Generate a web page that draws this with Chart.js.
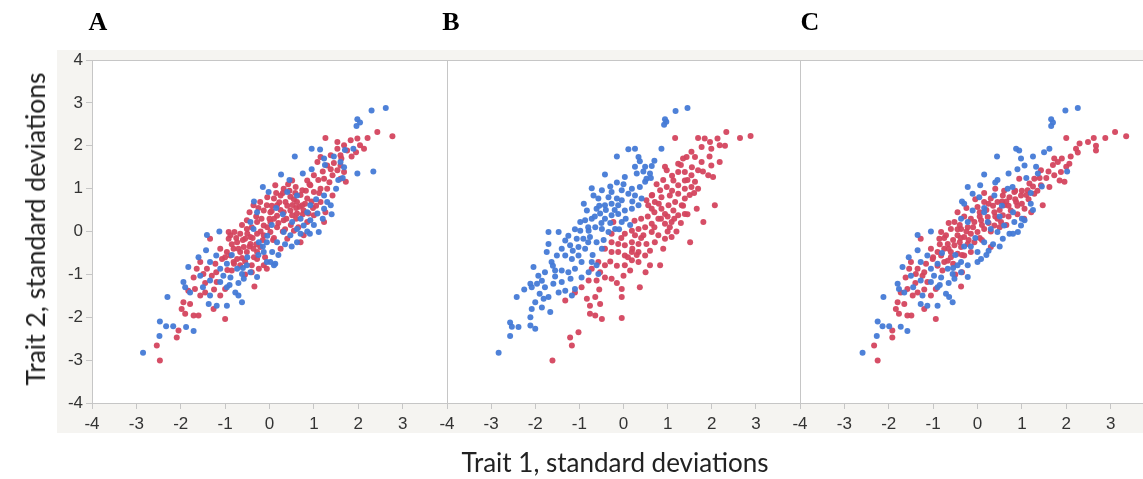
<!DOCTYPE html>
<html>
<head>
<meta charset="utf-8">
<script src="https://cdn.jsdelivr.net/npm/chart.js@4/dist/chart.umd.min.js"></script>
<style>
  html, body { margin: 0; padding: 0; width: 1143px; height: 479px; overflow: hidden; background: #fff; }
  #band { position: absolute; left: 57px; top: 50px; width: 1110px; height: 383px; background: #f5f4f1; }
  canvas { position: absolute; left: 0; top: 0; }
  .letter { position: absolute; top: 7px; font: bold 26px "Liberation Serif", "Times New Roman", serif; color: #000; transform: translateX(-50%); }
  #ytitle { position: absolute; left: 35px; top: 229px; transform: translate(-50%, -50%) rotate(-90deg); font: 26.5px Lato, "Open Sans", sans-serif; color: #222; white-space: nowrap; }
  #xtitle { position: absolute; left: 615px; top: 462px; transform: translate(-50%, -50%); font: 26px Lato, "Open Sans", sans-serif; color: #222; white-space: nowrap; }
</style>
</head>
<body>
<div id="band"></div>
<canvas id="chartA" width="1160" height="479"></canvas>
<canvas id="chartB" width="1160" height="479"></canvas>
<canvas id="chartC" width="1160" height="479"></canvas>
<div class="letter" style="left:98px">A</div>
<div class="letter" style="left:451px">B</div>
<div class="letter" style="left:810px">C</div>
<div id="ytitle">Trait 2, standard deviations</div>
<div id="xtitle">Trait 1, standard deviations</div>
<script>
// Panel letters and axis ranges
const panelLabels = ['A', 'B', 'C'];
const xTicks = [-4, -3, -2, -1, 0, 1, 2, 3];
const yTicks = [-4, -3, -2, -1, 0, 1, 2, 3, 4];

// Panel A: both groups overlapping along the trait diagonal
const aBlue = [
  [2.62,2.88],[2.30,2.82],[1.98,2.62],[2.04,2.54],[1.96,2.46],[1.89,1.93],[1.98,1.35],[2.34,1.40],[0.95,1.93],[1.14,1.91],
  [0.57,1.75],[0.26,1.33],[1.60,1.62],[1.68,1.50],[1.23,1.70],[-0.15,1.04],[-0.02,0.92],[0.40,0.92],[0.62,0.84],[1.23,0.84],
  [1.30,0.69],[1.38,0.61],[1.23,0.53],[1.08,0.42],[0.92,0.26],[1.11,-0.01],[0.91,-0.05],[0.77,0.14],[0.62,0.06],[0.47,-0.09],
  [0.32,-0.01],[0.17,-0.25],[0.06,-0.48],[0.02,-0.71],[0.13,-0.75],[-0.28,0.45],[-0.43,0.22],[-0.36,0.06],[-0.24,-0.25],[-0.13,-0.48],
  [-0.06,-0.25],[0.51,0.22],[0.70,0.30],[0.92,0.61],[0.62,-0.25],[-1.41,-0.08],[-1.13,0.00],[-1.43,-0.44],[-1.83,-0.83],[-1.20,-0.56],
  [-1.34,-0.71],[-1.11,-0.87],[-0.96,-0.75],[-1.04,-1.03],[-0.88,-1.07],[-0.73,-0.87],[-0.62,-0.99],[-0.58,-1.10],[-0.96,-1.30],[-1.11,-1.18],
  [-1.34,-1.14],[-1.56,-1.03],[-1.94,-1.18],[-1.90,-1.30],[-1.79,-1.42],[-1.34,-1.49],[-1.37,-1.69],[-1.19,-1.73],[-0.96,-1.73],[-0.77,-1.42],
  [-0.70,-1.49],[-0.62,-1.65],[-2.30,-1.53],[-2.47,-2.10],[-2.33,-2.21],[-2.17,-2.21],[-1.88,-2.23],[-1.71,-2.32],[-2.48,-2.44],[-2.85,-2.83],
  [-0.51,-0.79],[-0.43,-0.95],[-0.06,-0.71],[0.10,-0.79],[-0.28,-1.06],[0.30,0.40],[0.85,0.45],[1.05,0.75],[1.50,1.00],[1.55,1.20],
  [0.70,-0.05],[0.35,-0.30],[-0.05,-0.10],[-0.50,-0.60],[-0.70,-1.20],[-0.85,-0.55],[1.25,1.55],[1.65,1.25],[0.05,0.15],[-0.25,-0.55],
  [0.50,-0.35],[0.85,0.00],[1.00,0.15],[1.40,0.40],[1.20,0.30],[-0.15,-0.35],[0.20,-0.55],[-0.60,-0.85],[-0.90,-1.25],[-1.50,-1.30],
  [-1.60,-0.60],[0.15,0.55],[-0.35,0.70],[0.45,1.20],[0.75,1.35],[1.45,1.75],[1.70,1.90],[0.95,1.45]
];
const aRed = [
  [2.77,2.22],[2.43,2.32],[2.21,2.18],[1.98,2.17],[1.83,2.13],[2.13,1.93],[2.04,2.01],[1.68,2.01],[1.53,1.93],[1.26,2.18],
  [1.53,2.09],[1.75,1.89],[1.60,1.78],[1.38,1.78],[1.15,1.74],[1.08,1.62],[1.30,1.54],[1.60,1.54],[1.68,1.39],[1.53,1.43],
  [1.42,1.31],[1.23,1.23],[1.00,1.31],[0.85,1.19],[1.72,1.16],[1.60,1.23],[0.51,1.19],[0.13,1.08],[-0.36,0.61],[-0.21,0.69],
  [-0.06,0.61],[0.10,0.77],[0.25,0.84],[0.36,0.69],[0.47,0.81],[0.62,0.69],[0.74,0.61],[0.85,0.77],[1.00,0.92],[0.92,1.08],
  [1.15,1.00],[0.74,0.96],[0.59,1.04],[0.32,1.00],[0.17,0.61],[0.02,0.45],[-0.13,0.49],[0.17,0.37],[0.32,0.45],[0.47,0.49],
  [0.62,0.42],[0.77,0.49],[0.32,0.26],[0.51,0.38],[-0.28,0.22],[-0.13,0.14],[0.02,0.22],[0.17,0.10],[-0.51,0.06],[-0.66,-0.05],
  [-0.55,-0.17],[-0.43,-0.13],[-0.28,-0.05],[-0.13,-0.09],[0.02,-0.01],[-0.43,-0.29],[-0.58,-0.36],[-0.73,-0.25],[-0.81,-0.40],[-0.66,-0.48],
  [-0.51,-0.48],[-0.36,-0.40],[-0.21,-0.36],[-0.88,-0.56],[-0.73,-0.64],[-0.88,-0.09],[-0.92,-0.01],[-0.51,0.26],[-0.28,-0.64],[-0.13,-0.79],
  [-0.24,-0.87],[-0.40,-0.79],[0.85,0.22],[1.00,0.38],[1.23,0.22],[1.26,0.45],[1.15,0.69],[1.42,0.84],[0.77,-0.09],[0.70,-0.25],
  [0.40,-0.17],[0.25,-0.40],[0.55,0.02],[-1.34,-0.17],[-1.56,-0.71],[-1.64,-0.87],[-1.49,-0.99],[-1.71,-1.07],[-1.83,-1.38],[-1.68,-1.34],
  [-1.56,-1.49],[-1.45,-1.42],[-1.11,-1.49],[-1.00,-1.34],[-1.19,-1.18],[-1.30,-1.03],[-1.41,-0.87],[-1.22,-0.75],[-1.07,-0.64],[-0.96,-0.48],
  [-1.11,-0.40],[-0.81,-0.71],[-0.66,-0.79],[-0.85,-0.91],[-0.92,-0.17],[-0.79,-0.01],[-1.94,-1.65],[-1.98,-1.81],[-1.90,-1.92],[-1.71,-1.96],
  [-1.60,-1.96],[-1.79,-1.69],[-1.26,-1.81],[-1.00,-2.04],[-0.34,-1.28],[-2.05,-2.31],[-2.09,-2.47],[-2.54,-2.66],[-2.47,-3.01],[-0.28,-0.48],
  [-0.06,-0.87],[-0.60,-0.20],[-0.45,-0.35],[-0.30,-0.30],[-0.20,0.00],[-0.05,0.10],[0.10,0.30],[0.25,0.50],[0.40,0.60],[0.55,0.75],
  [0.70,0.85],[0.30,0.90],[0.45,0.95],[0.60,0.55],[0.80,0.65],[0.90,1.10],[1.10,1.20],[1.30,1.00],[1.45,1.60],[0.00,0.30],
  [-0.15,-0.20],[-0.35,-0.60],[-0.55,-0.70],[-0.70,-0.40],[-0.50,-0.05],[0.05,0.60],[0.20,0.20],[0.35,0.05],[0.60,0.30],[0.75,0.40],
  [0.95,0.70],[-0.80,-0.75],[-0.95,-0.90],[-0.30,0.35],[-0.10,-0.60],[-0.75,-0.15],[-0.62,-0.62],[-0.40,0.10],[-0.18,0.30],[0.08,-0.20],
  [0.22,0.68],[0.38,0.30],[0.52,0.62],[0.68,0.58],[0.82,0.95],[0.98,0.55],[1.12,0.90],[1.20,1.40],[1.35,1.15],[0.42,1.10],
  [0.15,0.90],[-0.05,0.80],[-0.45,0.45],[-0.62,0.15],[-0.85,-0.30],[-1.00,-0.60],[-1.20,-0.95],[-1.45,-1.20],[-1.25,-1.35],[-0.55,-1.00],
  [-0.40,-0.95],[0.30,0.00],[0.48,0.15],[0.65,0.10],[0.88,0.42],[1.05,0.60],[1.38,1.45],[1.62,1.70],[1.85,1.75],[1.95,1.85],
  [0.10,-0.15],[-0.25,0.55],[0.58,0.90],[0.05,0.48],[-0.38,-0.15]
];

// Panel B: groups separated along trait 1
const bBlue = [
  [1.45,2.88],[1.18,2.81],[0.94,2.62],[0.92,2.49],[0.97,2.56],[0.86,1.93],[0.26,1.93],[0.11,1.92],[-0.15,1.75],[0.34,1.74],
  [0.37,1.64],[0.49,1.51],[0.64,1.53],[0.60,1.35],[0.26,1.51],[-0.42,1.33],[0.03,1.27],[-0.15,1.14],[0.49,1.16],[0.52,1.23],
  [0.62,1.25],[-0.72,1.01],[-0.49,0.96],[-0.27,0.92],[-0.04,0.96],[0.19,1.00],[0.37,1.04],[-0.68,0.84],[-0.57,0.77],[-0.34,0.80],
  [-0.15,0.77],[-0.04,0.73],[0.11,0.88],[0.26,0.84],[0.41,0.77],[0.34,0.61],[-0.27,0.65],[-0.12,0.61],[-0.42,0.61],[-0.61,0.53],
  [-0.83,0.49],[-0.98,0.22],[-0.87,0.26],[-0.72,0.30],[-0.53,0.42],[-0.42,0.30],[-0.27,0.38],[-0.12,0.41],[0.03,0.49],[0.19,0.53],
  [-0.04,0.22],[-0.19,0.06],[-0.34,-0.01],[-0.49,0.06],[-0.64,0.10],[-0.79,0.02],[-0.98,0.02],[-1.06,-0.17],[-0.91,-0.17],[-0.76,-0.13],
  [-0.61,-0.25],[-0.49,-0.40],[-0.87,-0.40],[-1.02,-0.36],[-1.21,-0.32],[-1.32,-0.21],[-1.47,-0.01],[-1.70,-0.01],[-1.70,-0.29],[-1.74,-0.48],
  [-1.51,-0.56],[-1.63,-0.71],[-2.04,-0.83],[-1.32,-0.56],[-1.17,-0.64],[-1.02,-0.56],[-0.95,-0.71],[-0.72,-0.71],[-0.61,-0.79],[-1.10,-0.87],
  [-1.25,-0.95],[-1.40,-0.91],[-1.55,-0.91],[-1.78,-0.95],[-1.93,-1.03],[-2.11,-1.22],[-2.08,-1.30],[-1.96,-1.22],[-1.78,-1.30],[-1.59,-1.22],
  [-1.40,-1.18],[-1.32,-1.38],[-1.47,-1.42],[-1.70,-1.53],[-1.81,-1.57],[-2.00,-1.65],[-2.42,-1.53],[-1.85,-1.77],[-1.66,-1.88],[-2.08,-1.81],
  [-2.11,-2.00],[-2.57,-2.12],[-2.53,-2.22],[-2.38,-2.23],[-2.11,-2.19],[-2.00,-2.27],[-2.57,-2.44],[-2.83,-2.83],[-1.17,-1.49],[-1.10,-1.34],
  [-0.95,-1.07],[-0.79,-0.95],[-0.57,-0.99],[-0.30,0.20],[-0.50,0.20],[-0.65,0.35],[-0.80,0.10],[-0.40,0.50],[-0.20,0.50],[0.05,0.30],
  [0.20,0.70],[0.00,1.10],[-0.30,1.05],[-0.55,0.60],[-1.10,0.05],[-1.25,-0.10],[-1.40,-0.40],[-1.15,-0.45],[-0.80,-0.25],[-0.70,-0.55],
  [-0.45,-0.20],[-1.60,-0.80],[-1.85,-1.15],[-1.55,-1.05],[-1.20,-1.10],[-2.25,-1.35],[-1.90,-1.45],[0.45,1.40],[0.70,1.65],[0.30,1.35],
  [-0.90,0.65],[-0.10,0.05],[0.15,0.15]
];
const bRed = [
  [2.88,2.23],[2.64,2.18],[2.33,2.32],[2.13,2.17],[1.96,2.09],[1.84,2.17],[1.69,2.18],[1.17,2.18],[1.77,1.97],[1.99,1.93],
  [2.18,2.01],[1.54,1.86],[1.43,1.74],[1.35,1.70],[1.62,1.74],[1.77,1.62],[1.99,1.54],[2.18,1.62],[1.92,1.31],[2.03,1.27],
  [1.69,1.43],[1.54,1.31],[1.39,1.39],[1.24,1.39],[0.98,1.43],[0.94,1.51],[1.24,1.58],[1.39,1.19],[1.62,1.16],[1.69,1.00],
  [1.54,1.04],[1.39,1.00],[1.24,1.08],[1.13,1.19],[0.98,1.04],[0.83,0.96],[0.64,0.84],[0.52,0.73],[0.71,0.69],[0.86,0.80],
  [1.05,0.84],[1.24,0.88],[1.39,0.77],[1.32,0.61],[1.17,0.69],[1.02,0.61],[0.86,0.53],[0.64,0.53],[0.56,0.61],[0.94,0.41],
  [1.13,0.49],[1.24,0.38],[1.39,0.41],[1.66,0.53],[2.07,0.61],[1.81,0.22],[1.09,0.22],[0.94,0.18],[0.79,0.30],[0.64,0.18],
  [0.49,0.10],[0.34,0.06],[0.19,0.02],[0.03,-0.05],[0.26,-0.09],[0.45,-0.09],[0.64,-0.01],[0.79,-0.09],[0.94,-0.17],[1.09,-0.13],
  [1.51,-0.25],[0.71,-0.25],[0.52,-0.29],[0.34,-0.29],[0.19,-0.25],[0.03,-0.32],[-0.12,-0.29],[-0.27,-0.25],[-0.27,-0.05],[-0.23,0.22],
  [-0.42,-0.40],[-0.27,-0.48],[-0.12,-0.48],[0.03,-0.56],[0.19,-0.48],[0.34,-0.48],[0.49,-0.56],[0.19,-0.67],[0.03,-0.79],[0.15,-0.91],
  [0.34,-0.71],[0.60,-0.79],[0.83,-0.79],[0.00,-1.03],[-0.42,-0.79],[-0.57,-0.71],[-0.72,-0.87],[-0.53,-0.95],[-0.42,-1.07],[-0.27,-1.10],
  [-0.61,-1.14],[-0.79,-1.14],[-0.95,-1.30],[-1.10,-1.42],[-1.32,-1.61],[-0.83,-1.57],[-0.64,-1.53],[-0.53,-1.69],[-0.04,-1.53],[0.37,-1.30],
  [-0.04,-1.34],[-0.76,-1.73],[-0.76,-1.92],[-0.64,-1.96],[-0.49,-2.04],[-0.04,-2.02],[-1.02,-2.35],[-1.21,-2.47],[-1.17,-2.66],[-1.61,-3.01],
  [1.10,1.30],[1.45,1.20],[0.80,0.65],[1.00,0.00],[0.40,0.30],[1.30,0.20],[0.70,0.45],[0.20,-0.40],[-0.15,-0.80],[1.60,0.90],
  [0.70,0.10],[0.85,0.30],[1.00,0.35],[1.15,0.30],[0.55,0.35],[0.40,-0.15],[0.60,-0.45],[0.90,-0.40],[1.20,0.00],[1.35,0.60],
  [1.50,0.85],[1.10,0.95],[0.90,1.20],[1.30,1.55],[1.55,1.50],[1.80,1.40],[0.75,1.10],[0.25,0.25],[-0.05,-0.15],[0.10,-0.60],
  [-0.30,-0.70],[0.50,-0.95],[-0.15,-1.20],[-0.55,-1.35],[1.95,1.75],[2.30,2.00],[1.05,0.10],[0.30,-0.55],[1.45,0.40],[0.65,0.85]
];

// Panel C: overlapping groups with the red upper tail stretched along trait 1
const cBlue = [
  [2.26,2.88],[1.98,2.82],[1.66,2.62],[1.70,2.54],[1.66,2.46],[1.62,1.93],[2.02,1.40],[0.87,1.93],[0.94,1.89],[0.44,1.75],
  [0.15,1.33],[0.98,1.70],[1.06,1.54],[1.32,1.51],[1.36,1.35],[-0.22,1.04],[0.06,1.08],[0.40,1.14],[-0.11,0.88],[0.04,0.80],
  [0.68,1.00],[0.79,1.04],[0.38,0.84],[-0.30,0.65],[-0.37,0.30],[-0.22,0.22],[0.23,0.22],[0.30,0.06],[0.45,-0.01],[0.60,0.14],
  [0.72,-0.05],[0.91,-0.01],[0.98,0.14],[1.06,0.26],[0.83,0.22],[0.57,-0.17],[0.00,-0.48],[0.15,-0.25],[0.00,-0.71],[-0.22,-0.79],
  [-0.37,-0.71],[-1.35,-0.08],[-1.05,0.00],[-1.35,-0.44],[-1.69,-0.83],[-1.13,-0.56],[-1.28,-0.71],[-1.05,-0.87],[-0.90,-0.75],[-0.98,-1.03],
  [-0.82,-1.07],[-0.67,-0.87],[-0.56,-0.99],[-0.52,-1.10],[-0.90,-1.30],[-1.05,-1.18],[-1.28,-1.14],[-1.50,-1.03],[-1.80,-1.22],[-1.77,-1.34],
  [-1.65,-1.42],[-1.24,-1.49],[-1.28,-1.69],[-1.13,-1.73],[-0.90,-1.73],[-0.71,-1.45],[-0.64,-1.53],[-0.56,-1.65],[-2.12,-1.53],[-2.25,-2.10],
  [-2.14,-2.21],[-1.99,-2.21],[-1.73,-2.22],[-1.58,-2.32],[-2.27,-2.44],[-2.59,-2.83],[-0.45,-0.79],[-0.37,-0.95],[0.08,-0.64],[-0.22,-1.06],
  [0.15,0.45],[-0.11,0.49],[0.50,0.35],[0.80,0.45],[1.20,0.90],[1.45,1.05],[0.35,-0.30],[-0.05,-0.15],[-0.50,-0.55],[-0.65,-1.20],
  [-0.80,-0.50],[1.10,1.25],[0.25,-0.45],[-0.30,-0.35],[0.55,0.60],[0.50,-0.35],[0.80,-0.05],[1.00,0.30],[1.25,0.50],[-0.15,-0.35],
  [0.20,-0.55],[-0.55,-0.85],[-0.85,-1.25],[-1.45,-1.30],[-1.55,-0.60],[0.15,0.55],[-0.35,0.70],[0.45,1.20],[0.70,1.35],[1.25,1.75],
  [1.50,1.85],[0.90,1.45],[1.20,0.65]
];
const cRed = [
  [3.35,2.22],[3.10,2.32],[2.88,2.18],[2.62,2.18],[2.49,2.09],[2.30,2.05],[2.22,1.93],[2.26,1.84],[2.67,2.00],[2.67,1.89],
  [2.00,2.18],[2.07,1.58],[2.00,1.51],[1.73,1.70],[1.81,1.62],[1.88,1.39],[1.73,1.31],[1.85,1.19],[1.96,1.16],[1.62,1.04],
  [1.43,1.43],[1.28,1.23],[1.17,1.12],[1.43,1.08],[1.13,0.96],[1.28,0.88],[0.98,0.84],[0.83,0.92],[0.94,1.23],[1.47,0.61],
  [1.21,0.45],[1.06,0.53],[0.87,0.69],[0.72,0.80],[0.57,0.84],[0.45,0.69],[0.30,0.77],[0.15,0.69],[0.00,0.57],[0.60,0.61],
  [0.75,0.49],[0.57,0.38],[0.38,0.45],[0.23,0.34],[0.08,0.26],[-0.07,0.22],[-0.22,0.10],[-0.37,0.06],[-0.52,0.22],[-0.60,0.06],
  [-0.45,-0.09],[-0.30,-0.13],[-0.15,-0.05],[0.00,-0.01],[0.15,0.06],[0.38,0.14],[0.53,0.22],[-0.82,-0.01],[-0.71,-0.09],[-0.86,-0.17],
  [-0.67,-0.29],[-0.52,-0.32],[-0.37,-0.36],[-0.22,-0.29],[-0.07,-0.25],[-0.60,-0.48],[-0.75,-0.40],[-0.82,-0.56],[-0.45,-0.52],[-0.30,-0.56],
  [-0.15,-0.48],[-0.67,-0.68],[-1.28,-0.17],[-1.50,-0.71],[-1.54,-0.87],[-1.39,-0.99],[-1.62,-1.07],[-1.73,-1.42],[-1.58,-1.34],[-1.46,-1.49],
  [-1.35,-1.42],[-1.05,-1.49],[-0.94,-1.34],[-1.13,-1.18],[-1.24,-1.03],[-1.35,-0.87],[-1.16,-0.75],[-1.01,-0.64],[-0.90,-0.48],[-1.05,-0.40],
  [-0.75,-0.71],[-0.79,-0.91],[-1.80,-1.65],[-1.84,-1.81],[-1.77,-1.92],[-1.58,-1.96],[-1.49,-1.96],[-1.65,-1.69],[-1.20,-1.81],[-0.94,-2.04],
  [-0.37,-1.28],[-1.92,-2.31],[-1.92,-2.47],[-2.33,-2.66],[-2.25,-3.01],[0.30,-0.36],[-0.55,-0.20],[-0.40,-0.25],[-0.25,0.00],[-0.10,0.10],
  [0.05,0.35],[0.20,0.50],[0.35,0.60],[0.50,0.50],[0.65,0.70],[0.90,0.60],[1.00,0.95],[1.15,0.75],[1.35,0.95],[1.55,1.25],
  [0.10,0.15],[-0.20,-0.20],[-0.35,-0.55],[-0.55,-0.75],[-0.65,-0.40],[-0.45,0.05],[0.25,0.20],[0.45,0.30],[-0.90,-0.80],[-0.30,0.35],
  [0.70,0.35],[0.85,0.75],[-0.75,-0.15],[-0.60,-0.60],[-0.40,0.15],[-0.15,0.30],[0.10,-0.20],[0.25,0.65],[0.40,0.35],[0.55,0.70],
  [0.70,0.60],[0.85,0.95],[1.00,0.65],[1.10,0.85],[1.25,1.05],[1.40,1.25],[1.60,1.40],[1.70,1.55],[1.90,1.70],[2.10,1.75],
  [0.40,1.00],[0.15,0.90],[-0.05,0.75],[-0.45,0.45],[-0.65,0.20],[-0.85,-0.30],[-1.00,-0.60],[-1.20,-0.95],[-1.40,-1.20],[-1.20,-1.35],
  [-0.50,-1.00],[-0.35,-0.95],[0.30,0.00],[0.50,0.10],[0.65,0.15],[0.90,0.40],[1.05,0.30],[0.05,-0.15],[-0.25,0.55],[0.60,0.95],
  [0.05,0.45],[-0.38,-0.15]
];

const BLUE = 'rgba(68,122,214,0.95)';
const RED = 'rgba(212,68,94,0.95)';
const AXIS = '#c6c6c6';
const TICK_FONT = { family: '"Liberation Sans", Arial, sans-serif', size: 17 };

const CANVAS_W = 1160, CANVAS_H = 479;
const PLOT_TOP = 60, PLOT_BOTTOM = 403, X_AXIS_H = 30, Y_AXIS_W = 35;

// White plot area and the thin frame line along its top edge
const plotFrame = {
  id: 'plotFrame',
  beforeDraw(chart) {
    const { ctx, chartArea: a } = chart;
    ctx.save();
    ctx.fillStyle = '#ffffff';
    ctx.fillRect(a.left, a.top, a.right - a.left, a.bottom - a.top);
    ctx.strokeStyle = AXIS;
    ctx.lineWidth = 1;
    ctx.beginPath();
    ctx.moveTo(a.left, a.top + 0.5);
    ctx.lineTo(a.right, a.top + 0.5);
    ctx.stroke();
    ctx.restore();
  }
};

const toPoints = arr => arr.map(p => ({ x: p[0], y: p[1] }));

function makePanel(id, blue, red, left, right, withYLabels) {
  const yw = withYLabels ? Y_AXIS_W : 0;
  return new Chart(document.getElementById(id), {
    type: 'scatter',
    data: {
      datasets: [
        { data: toPoints(blue), backgroundColor: BLUE, pointRadius: 3, pointBorderWidth: 0 },
        { data: toPoints(red), backgroundColor: RED, pointRadius: 3, pointBorderWidth: 0 }
      ]
    },
    options: {
      responsive: false,
      animation: false,
      events: [],
      layout: { padding: { left: left - yw, right: CANVAS_W - right, top: PLOT_TOP, bottom: CANVAS_H - PLOT_BOTTOM - X_AXIS_H } },
      plugins: { legend: { display: false }, tooltip: { enabled: false } },
      scales: {
        x: {
          type: 'linear', min: -4, max: 4,
          afterBuildTicks: ax => { ax.ticks = xTicks.concat([4]).map(v => ({ value: v })); },
          afterFit: ax => { ax.height = X_AXIS_H; ax.paddingLeft = 0; ax.paddingRight = 0; },
          ticks: { callback: v => (xTicks.includes(v) ? String(v) : ''), font: TICK_FONT, color: '#333333', padding: 5, maxRotation: 0, autoSkip: false },
          grid: { drawOnChartArea: false, drawTicks: true, tickLength: 6, color: AXIS },
          border: { display: true, color: AXIS }
        },
        y: {
          type: 'linear', min: -4, max: 4,
          afterBuildTicks: ax => { ax.ticks = yTicks.map(v => ({ value: v })); },
          afterFit: ax => { ax.width = yw; },
          ticks: { display: withYLabels, font: TICK_FONT, color: '#333333', padding: 3 },
          grid: { drawOnChartArea: false, drawTicks: withYLabels, tickLength: 6, color: AXIS },
          border: { display: true, color: AXIS }
        }
      }
    },
    plugins: [plotFrame]
  });
}

makePanel('chartA', aBlue, aRed, 92, 447, true);
makePanel('chartB', bBlue, bRed, 447, 800, false);
makePanel('chartC', cBlue, cRed, 800, 1155, false);
</script>
</body>
</html>
